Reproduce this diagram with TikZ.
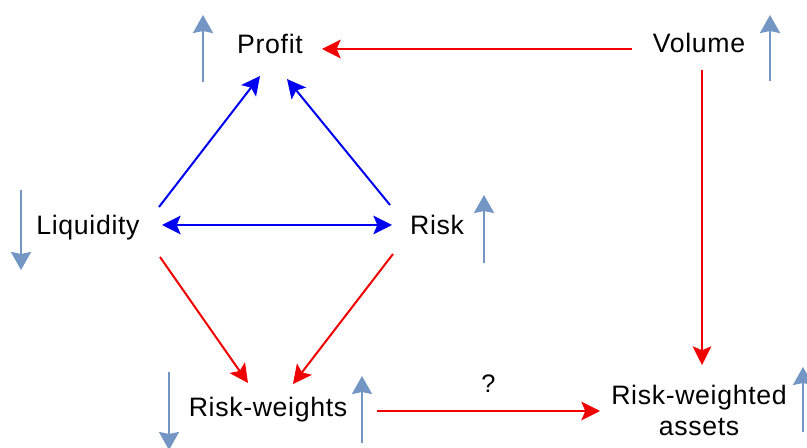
\documentclass[tikz,border=0pt]{standalone}
\usepackage{fontspec}
\setmainfont[LetterSpace=2.5]{Liberation Sans}
\usetikzlibrary{arrows.meta}
\definecolor{myred}{RGB}{240,0,0}
\definecolor{myblue}{RGB}{0,0,240}
\definecolor{steel}{RGB}{115,150,196}
\tikzset{
  lbl/.style={inner sep=0pt, font=\fontsize{20}{23.25}\selectfont},
  redarr/.style={draw=myred, line width=1.5pt, -{Stealth[length=14pt,width=14pt,inset=3pt]}, myred},
  bluearr/.style={draw=myblue, line width=1.5pt, -{Stealth[length=14pt,width=14pt,inset=3pt]}, myblue},
  bluedbl/.style={draw=myblue, line width=1.5pt, {Stealth[length=14pt,width=14pt,inset=3pt]}-{Stealth[length=14pt,width=14pt,inset=3pt]}, myblue},
  trend/.style={draw=steel, line width=1.9pt, -{Stealth[length=13.5pt,width=15pt,inset=1.5pt]}, steel}
}
\begin{document}
\begin{tikzpicture}[x=0.75pt, y=-0.75pt]
\useasboundingbox (0,0) rectangle (807,448);
% nodes
\node[lbl, anchor=base] (prof) at (270,54) {Profit};
\node[lbl, anchor=base] (vol) at (699,53) {Volume};
\node[lbl, anchor=base] (liq) at (88,235) {Liquidity};
\node[lbl, anchor=base] (risk) at (437,235) {Risk};
\node[lbl, anchor=base] (rw) at (268,417) {Risk-weights};
\node[lbl, align=center] (rwa) at (699,410) {Risk-weighted\\assets};
% connectors
\draw[redarr] ([shift={(-67,-4)}]vol.base) -- ([shift={(52,-5)}]prof.base);
\draw[redarr] ([shift={(3,17)}]vol.base) -- ([shift={(3,-45)}]rwa.center);
\draw[bluearr] ([shift={(71,-28)}]liq.base) -- ([shift={(-10,22)}]prof.base);
\draw[bluearr] ([shift={(-47,-30)}]risk.base) -- ([shift={(17,25)}]prof.base);
\draw[bluedbl] ([shift={(74,-10)}]liq.base) -- ([shift={(-45,-10)}]risk.base);
\draw[redarr] ([shift={(72,22)}]liq.base) -- ([shift={(-20,-34)}]rw.base);
\draw[redarr] ([shift={(-44,19)}]risk.base) -- ([shift={(25,-33)}]rw.base);
\draw[redarr] ([shift={(109,-6)}]rw.base) -- node[midway, anchor=base, yshift=13.5pt, inner sep=0pt, font=\fontsize{19}{22}\selectfont, text=black] (q) {?} ([shift={(-99,1)}]rwa.center);
% trend arrows
\coordinate (p1) at (203,82); \coordinate (p2) at (203,15);
\coordinate (v1) at (770,81); \coordinate (v2) at (770,15);
\coordinate (l1) at (21,190); \coordinate (l2) at (21,270);
\coordinate (r1) at (484,263); \coordinate (r2) at (484,195);
\coordinate (w1) at (169,372); \coordinate (w2) at (169,450);
\coordinate (x1) at (362,443); \coordinate (x2) at (362,376);
\coordinate (a1) at (803,432); \coordinate (a2) at (803,367);
\draw[trend] (p1) -- (p2);
\draw[trend] (v1) -- (v2);
\draw[trend] (l1) -- (l2);
\draw[trend] (r1) -- (r2);
\draw[trend] (w1) -- (w2);
\draw[trend] (x1) -- (x2);
\draw[trend] (a1) -- (a2);
\end{tikzpicture}
\end{document}
